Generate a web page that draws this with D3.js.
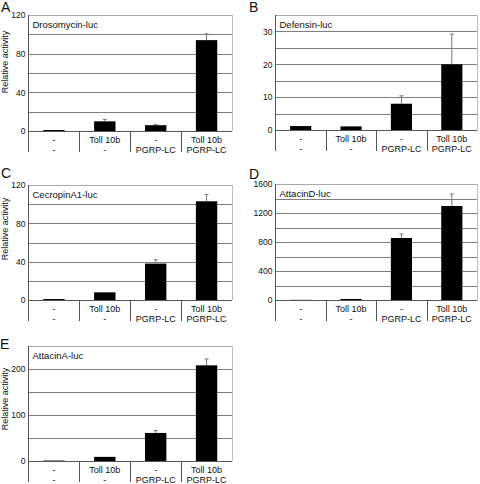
<!DOCTYPE html>
<html><head><meta charset="utf-8">
<script src="https://cdn.jsdelivr.net/npm/d3@7"></script>
<style>body{margin:0;background:#fff}svg{display:block}text{font-family:"Liberation Sans",Arial,sans-serif;fill:#111}</style>
</head><body><svg id="c" width="480" height="484"></svg>
<script>
const categoriesRow1 = ["-", "Toll 10b", "-", "Toll 10b"];
const categoriesRow2 = ["-", "-", "PGRP-LC", "PGRP-LC"];
const panelLetters = ["A", "B", "C", "D", "E"];
const panelTitles = ["Drosomycin-luc", "Defensin-luc", "CecropinA1-luc", "AttacinD-luc", "AttacinA-luc"];
const valuesA = [1, 10, 6, 94];     const errA = [0, 2, 0.8, 6.5];
const valuesB = [1.2, 1.1, 8, 20];  const errB = [0, 0, 2.4, 9.2];
const valuesC = [1, 8, 38, 103];    const errC = [0, 0, 4, 7];
const valuesD = [2, 14, 855, 1297]; const errD = [0, 0, 55, 165];
const valuesE = [1, 9, 61, 208];    const errE = [0, 0, 5, 14];
const yMax = [120, 35, 120, 1600, 250];
const yTicks = [[0,40,80,120],[0,10,20,30],[0,40,80,120],[0,400,800,1200,1600],[0,100,200]];
const gridStep = [20, 5, 20, 200, 50];
const yTitle = "Relative activity";

const svg = d3.select("#c");
const boxes = [
  {l:28.5, t:15, r:232, b:131, letter:[1,12], yt:62},
  {l:275.5, t:15, r:477, b:130, letter:[249,12], yt:null},
  {l:28.5, t:185, r:232, b:300, letter:[1,178], yt:229},
  {l:275.5, t:184, r:477, b:300, letter:[249,179], yt:null},
  {l:28.5, t:346, r:232, b:461, letter:[0,349], yt:399}
];
const vals = [valuesA, valuesB, valuesC, valuesD, valuesE];
const errs = [errA, errB, errC, errD, errE];

boxes.forEach((bx, i) => {
  const g = svg.append("g");
  const x = d3.scaleBand().domain(d3.range(4)).range([bx.l, bx.r]).paddingInner(0).paddingOuter(0);
  const y = d3.scaleLinear().domain([0, yMax[i]]).range([bx.b, bx.t]);
  const grid = d3.range(gridStep[i], yMax[i] + 0.001, gridStep[i]);
  g.selectAll(".gl").data(grid).join("line")
    .attr("x1", bx.l).attr("x2", bx.r)
    .attr("y1", d => Math.round(y(d)) + 0.5).attr("y2", d => Math.round(y(d)) + 0.5)
    .attr("stroke", (d) => d === yMax[i] ? "#aaa" : "#808080").attr("stroke-width", 1);
  g.append("line").attr("x1", bx.r + 0.5).attr("x2", bx.r + 0.5).attr("y1", bx.t).attr("y2", bx.b)
    .attr("stroke", "#bbb");
  const ax = g.append("g").attr("transform", `translate(${bx.l},0)`)
    .call(d3.axisLeft(y).tickValues(yTicks[i]).tickSize(0).tickPadding(3).tickFormat(d3.format("d")));
  ax.select(".domain").remove();
  ax.selectAll("text").style("font-size", "8.5px").attr("fill", "#222");
  g.append("line").attr("x1", bx.l).attr("x2", bx.l).attr("y1", bx.t).attr("y2", bx.b + 21)
    .attr("stroke", "#555");
  g.append("line").attr("x1", bx.l).attr("x2", bx.r).attr("y1", bx.b + 0.5).attr("y2", bx.b + 0.5)
    .attr("stroke", "#555");
  g.selectAll(".sep").data([1, 2, 3]).join("line")
    .attr("x1", d => Math.round(x(d)) + 0.5).attr("x2", d => Math.round(x(d)) + 0.5)
    .attr("y1", bx.b).attr("y2", bx.b + 21).attr("stroke", "#555");
  const bw = x.bandwidth() * 0.42;
  g.selectAll(".bar").data(vals[i]).join("rect")
    .attr("x", (d, j) => x(j) + (x.bandwidth() - bw) / 2)
    .attr("width", bw)
    .attr("y", d => y(d)).attr("height", d => bx.b - y(d))
    .attr("fill", "#000");
  const eb = vals[i].map((v, j) => ({v, e: errs[i][j], j})).filter(d => d.e > 0);
  g.selectAll(".eb").data(eb).join("line")
    .attr("x1", d => x(d.j) + x.bandwidth() / 2).attr("x2", d => x(d.j) + x.bandwidth() / 2)
    .attr("y1", d => y(d.v)).attr("y2", d => y(d.v + d.e)).attr("stroke", "#777").attr("stroke-width", 1);
  g.selectAll(".ec").data(eb).join("line")
    .attr("x1", d => x(d.j) + x.bandwidth() / 2 - 2).attr("x2", d => x(d.j) + x.bandwidth() / 2 + 2)
    .attr("y1", d => y(d.v + d.e)).attr("y2", d => y(d.v + d.e)).attr("stroke", "#777");
  g.selectAll(".c1").data(categoriesRow1).join("text")
    .attr("x", (d, j) => x(j) + x.bandwidth() / 2).attr("y", bx.b + 11.5)
    .attr("text-anchor", "middle").style("font-size", "9px").text(d => d);
  g.selectAll(".c2").data(categoriesRow2).join("text")
    .attr("x", (d, j) => x(j) + x.bandwidth() / 2).attr("y", bx.b + 21.5)
    .attr("text-anchor", "middle").style("font-size", "9px").text(d => d);
  g.append("text").attr("x", bx.l + 4).attr("y", bx.t + 13).style("font-size", "9.5px").text(panelTitles[i]);
  g.append("text").attr("x", bx.letter[0]).attr("y", bx.letter[1]).style("font-size", "14px").text(panelLetters[i]);
  if (bx.yt !== null) {
    g.append("text").attr("transform", `translate(8,${bx.yt}) rotate(-90)`)
      .attr("text-anchor", "middle").style("font-size", "9px").text(yTitle);
  }
});
</script></body></html>
